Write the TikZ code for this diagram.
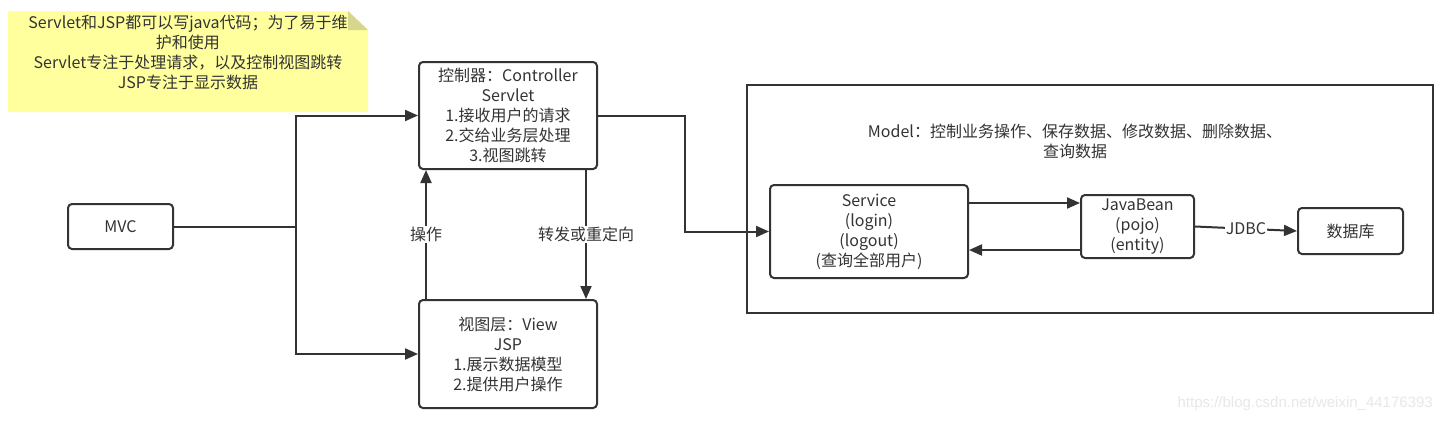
\documentclass[tikz,border=0pt]{standalone}
\usepackage{fontspec}
\setmainfont{Noto Sans CJK SC}
\newfontfamily\wmfont{Liberation Sans}
\usetikzlibrary{arrows.meta}
\definecolor{ink}{HTML}{333333}
\definecolor{noteyellow}{HTML}{FFFF9E}
\definecolor{notefold}{HTML}{D6D68C}
\definecolor{wm}{HTML}{E8E8E8}
\tikzset{
  box/.style={draw=ink, line width=2pt, rounded corners=4pt, align=center, text=ink,
    font=\fontsize{16}{20}\selectfont, inner sep=0pt},
  conn/.style={draw=ink, line width=2pt},
  arr/.style={conn, -{Triangle[length=13pt,width=11pt]}},
  lbl/.style={fill=white, text=ink, font=\fontsize{16}{20}\selectfont, inner sep=1pt},
}
\begin{document}
\begin{tikzpicture}[x=1pt,y=-1pt]
\useasboundingbox (0,0) rectangle (1444,423);
\fill[white] (0,0) rectangle (1444,423);
% note
\fill[noteyellow] (8,11) -- (348,11) -- (368,30) -- (368,112) -- (8,112) -- cycle;
\fill[notefold] (348,11) -- (368,30) -- (348,30) -- cycle;
\node[align=center, text=ink, font=\fontsize{16}{20}\selectfont, inner sep=0pt] (note) at (188,52)
  {Servlet和JSP都可以写java代码；为了易于维\\护和使用\\Servlet专注于处理请求，以及控制视图跳转\\JSP专注于显示数据};
% boxes
\node[box, minimum width=105pt, minimum height=45pt] (mvc) at (120.5,226.5) {MVC};
\node[box, minimum width=178pt, minimum height=107pt] (ctrl) at (508,115.5)
  {控制器：Controller\\Servlet\\1.接收用户的请求\\2.交给业务层处理\\3.视图跳转};
\node[box, minimum width=178pt, minimum height=108pt] (view) at (508,354)
  {视图层：View\\JSP\\1.展示数据模型\\2.提供用户操作};
\node[box, rounded corners=0pt, minimum width=686pt, minimum height=228pt] (model) at (1090,199) {};
\node[align=center, text=ink, font=\fontsize{16}{20}\selectfont, inner sep=0pt] (modeltext) at (1075,141)
  {Model：控制业务操作、保存数据、修改数据、删除数据、\\查询数据};
\node[box, minimum width=198pt, minimum height=93pt] (service) at (869,231.5)
  {Service\\(login)\\(logout)\\(查询全部用户)};
\node[box, minimum width=113pt, minimum height=63pt] (bean) at (1137.5,226.5)
  {JavaBean\\(pojo)\\(entity)};
\node[box, minimum width=105pt, minimum height=46pt] (db) at (1350.5,231) {数据库};
% connectors
\coordinate (split) at (296,226.5);
\draw[conn] (mvc.east) -- (split);
\draw[arr] (split) |- (ctrl.west);
\draw[arr] (split) |- (view.west);
\draw[arr] ([xshift=8pt]view.north west) -- ([xshift=8pt]ctrl.south west)
  node[lbl, midway] {操作};
\draw[arr] ([xshift=-12pt]ctrl.south east) -- ([xshift=-12pt]view.north east)
  node[lbl, midway] {转发或重定向};
\draw[arr] (ctrl.east) -- ++(87,0) |- (service.west);
\path ([yshift=28.5pt]service.east) coordinate (sb);
\draw[arr] (sb) -- (sb -| bean.west);
\path ([yshift=-23.5pt]bean.west) coordinate (bs);
\draw[arr] (bs) -- (bs -| service.east);
\draw[arr] (bean.east) -- (db.west) node[lbl, midway] {JDBC};
% watermark
\node[anchor=east, text=wm, font=\wmfont\fontsize{15}{18}\selectfont, inner sep=0pt] (wmark) at (1433,404)
  {https://blog.csdn.net/weixin\_44176393};
\end{tikzpicture}
\end{document}
